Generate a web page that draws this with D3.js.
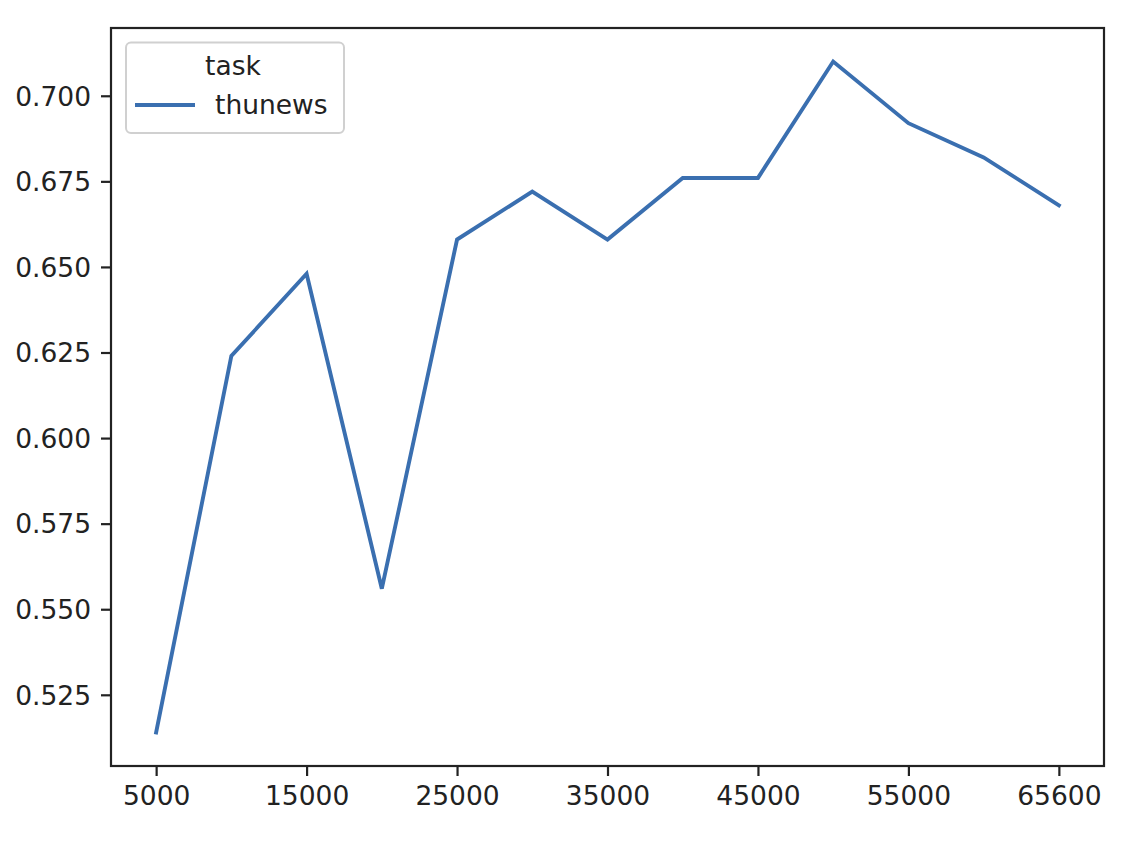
<!DOCTYPE html>
<html>
<head>
<meta charset="utf-8">
<script src="https://cdn.jsdelivr.net/npm/d3@7"></script>
<style>
  html, body { margin: 0; padding: 0; background: #fff; }
  svg { display: block; font-family: "DejaVu Sans", sans-serif; }
</style>
</head>
<body>
<svg id="chart" width="1124" height="842"></svg>
<script>
const categories = ["5000","10000","15000","20000","25000","30000","35000","40000","45000","50000","55000","60000","65600"];
const seriesName = "thunews";
const legendTitle = "task";
const values = [0.514, 0.624, 0.648, 0.556, 0.658, 0.672, 0.658, 0.676, 0.676, 0.710, 0.692, 0.682, 0.668];
const xTickLabels = ["5000","15000","25000","35000","45000","55000","65600"];
const yTicks = [0.525, 0.550, 0.575, 0.600, 0.625, 0.650, 0.675, 0.700];

(function () {
const svg = d3.select("#chart");
const pLeft = 111, pRight = 1104, pTop = 28, pBottom = 766;
const lineColor = "#3a6fb0";
const textColor = "#222";
const fontSize = 26.5;

const x = d3.scalePoint().domain(categories).range([pLeft, pRight]).padding(0.6);
const vmin = d3.min(values), vmax = d3.max(values), m = (vmax - vmin) * 0.05;
const y = d3.scaleLinear().domain([vmin - m, vmax + m]).range([pBottom, pTop]);

// line
const line = d3.line().x((d, i) => x(categories[i])).y(d => y(d));
svg.append("path").datum(values)
  .attr("d", line)
  .attr("fill", "none")
  .attr("stroke", lineColor)
  .attr("stroke-width", 3.9)
  .attr("stroke-linejoin", "miter")
  .attr("stroke-linecap", "square");

// axes
const xAxis = d3.axisBottom(x).tickValues(xTickLabels).tickSize(10).tickPadding(10);
const gx = svg.append("g").attr("transform", `translate(0,${pBottom})`).call(xAxis);
const yAxis = d3.axisLeft(y).tickValues(yTicks).tickFormat(d3.format(".3f")).tickSize(10).tickPadding(10);
const gy = svg.append("g").attr("transform", `translate(${pLeft},0)`).call(yAxis);
[gx, gy].forEach(g => {
  g.select(".domain").remove();
  g.selectAll(".tick line").attr("stroke", textColor).attr("stroke-width", 2.2);
  g.selectAll(".tick text").attr("fill", textColor).style("font-size", fontSize + "px").style("font-family", "DejaVu Sans");
});
gy.selectAll(".tick text").attr("dy", "0.35em");

// frame
svg.append("rect")
  .attr("x", pLeft).attr("y", pTop)
  .attr("width", pRight - pLeft).attr("height", pBottom - pTop)
  .attr("fill", "none").attr("stroke", textColor).attr("stroke-width", 2.2);

// legend
const lg = svg.append("g");
lg.append("rect")
  .attr("x", 126).attr("y", 42.5).attr("width", 218).attr("height", 90.5)
  .attr("rx", 5).attr("ry", 5)
  .attr("fill", "#fff").attr("fill-opacity", 0.8)
  .attr("stroke", "#d0d0d0").attr("stroke-width", 2);
lg.append("text").attr("x", 233).attr("y", 74.5)
  .attr("text-anchor", "middle").attr("fill", textColor)
  .style("font-size", fontSize + "px").text(legendTitle);
lg.append("line").attr("x1", 135).attr("x2", 195).attr("y1", 105).attr("y2", 105)
  .attr("stroke", lineColor).attr("stroke-width", 3.9);
lg.append("text").attr("x", 215).attr("y", 113.5)
  .attr("fill", textColor)
  .style("font-size", fontSize + "px").text(seriesName);
})();
</script>
</body>
</html>
